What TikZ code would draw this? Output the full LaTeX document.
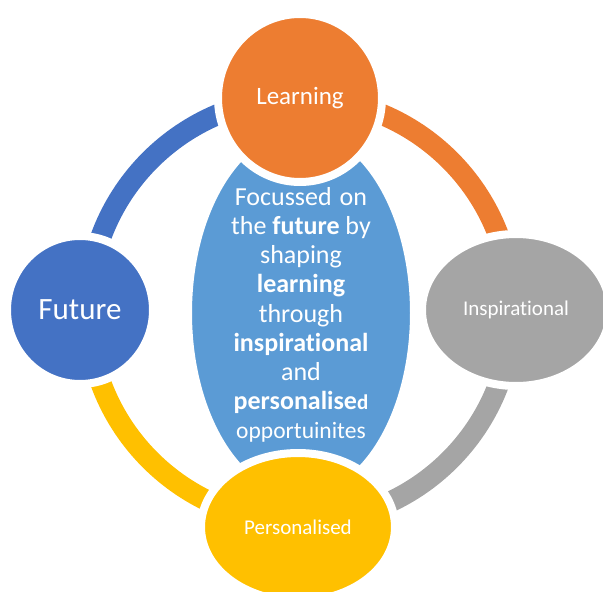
\documentclass[tikz,border=0pt]{standalone}
\usepackage{fontspec}
\setmainfont{Carlito}[Ligatures={NoCommon}]
\usetikzlibrary{shapes.geometric}
\definecolor{cblue}{HTML}{4472C4}
\definecolor{corange}{HTML}{ED7D31}
\definecolor{cgray}{HTML}{A5A5A5}
\definecolor{cgold}{HTML}{FFC000}
\definecolor{clight}{HTML}{5B9BD5}
\begin{document}
\begin{tikzpicture}[x=1pt,y=1pt,
  blob/.style={ellipse, draw=white, line width=8pt, inner sep=0pt, text=white},
  ringarc/.style={line width=21pt}]
\useasboundingbox (0,0) rectangle (603,-592);
\coordinate (ring) at (300,-310);
% ring segments
\draw[ringarc, cblue]   ([shift={(90:212pt)}]ring)  arc[start angle=90,  end angle=180, radius=212pt];
\draw[ringarc, corange] ([shift={(0:212pt)}]ring)   arc[start angle=0,   end angle=90,  radius=212pt];
\draw[ringarc, cgray]   ([shift={(270:212pt)}]ring) arc[start angle=270, end angle=360, radius=212pt];
\draw[ringarc, cgold]   ([shift={(180:212pt)}]ring) arc[start angle=180, end angle=270, radius=212pt];
% central ellipse
\node[blob, fill=clight, minimum width=226pt, minimum height=370pt] (core) at (301,-313) {};
\node[text=white, align=center, font=\fontsize{26}{29.2}\selectfont] (coretext) at (301,-315)
  {Focussed\hspace{8pt}on\\the \textbf{future} by\\shaping\\\textbf{learning}\\through\\\textbf{inspirational}\\and\\\textbf{personalise}{\fontsize{21}{29.2}\selectfont\bfseries d}\\{\fontsize{23.5}{29.2}\selectfont opportuinites}};
% outer nodes
\node[blob, fill=corange, minimum width=164pt, minimum height=168pt, font=\fontsize{25}{30}\selectfont] (learning) at (300,-98) {\raisebox{-2pt}{Learning}};
\node[blob, fill=cgold, minimum width=194pt, minimum height=148pt, font=\fontsize{21}{25}\selectfont] (personalised) at (298,-527) {Personalised};
\node[blob, fill=cblue, minimum width=146pt, minimum height=148pt, font=\fontsize{31}{36}\selectfont] (future) at (80,-310) {Future};
\node[blob, fill=cgray, minimum width=188pt, minimum height=152pt, font=\fontsize{21}{25}\selectfont] (inspirational) at (516,-310) {Inspirational};
\end{tikzpicture}
\end{document}
